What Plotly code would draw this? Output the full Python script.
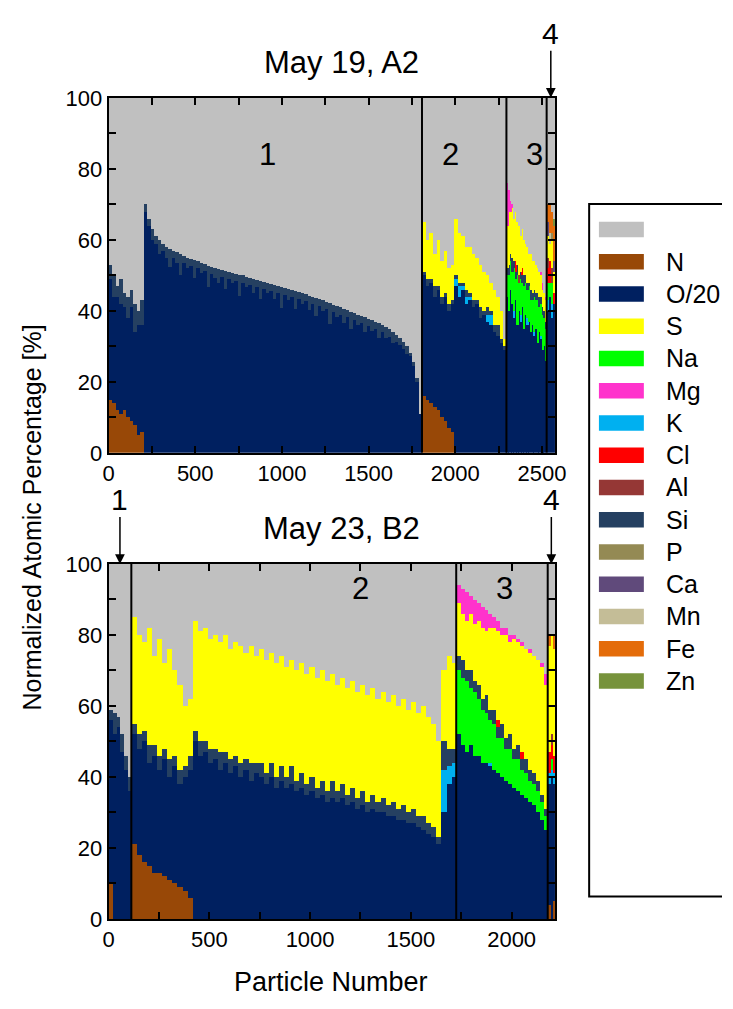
import plotly.graph_objects as go

# ---------------- colours / element order ----------------
COLORS = {
    "rest": "#C0C0C0", "N": "#984807", "O/20": "#002060", "S": "#FFFF00",
    "Na": "#00FF00", "Mg": "#FF33CC", "K": "#00B0F0", "Cl": "#FF0000",
    "Al": "#953735", "Si": "#254061", "P": "#948A54", "Ca": "#604A7B",
    "Mn": "#C4BD97", "Fe": "#E46C0A", "Zn": "#77933C",
}
LEGEND_NAMES = ["rest", "N", "O/20", "S", "Na", "Mg", "K", "Cl", "Al", "Si", "P", "Ca", "Mn", "Fe", "Zn"]
STACK_ORDER = ["N", "O/20", "K", "Na", "Si", "Cl", "Al", "S", "Mg", "P", "Ca", "Mn", "Fe", "Zn"]

# ---------------- May 19, A2 (top) ----------------
TOP_BOUNDS = [0, 1808, 2295, 2527, 2575]
TOP_RANGE = [0, 2575]

TOP_R1_N = [15, 14, 12, 11, 12, 10, 9, 8, 5, 6]
TOP_R1_O = [34, 30, 32, 31, 29, 28, 32, 26, 31, 30, 68,
            64, 60, 59, 56, 57, 55, 52.5, 55, 53.5, 50,
            53.5, 52, 52.7, 49.3, 52, 50.6, 51.2, 46.8, 50.5, 49.2,
            47.9, 49.6, 46.3, 49, 47.8, 48.5, 44.2, 48, 46.7, 47.4,
            45.1, 46.8, 43.5, 46.2, 45, 45.7, 43.4, 45.1, 40.8, 44.5,
            43.2, 43.9, 40.6, 43.3, 42, 42.7, 40.3, 42, 38.7, 41.3,
            40, 40.6, 36.2, 39.8, 38.4, 39, 36.6, 38.2, 34.8, 37.4,
            36, 36.6, 34.2, 35.8, 34.4, 35, 32.5, 34, 32.4, 32.8,
            31, 31.2, 30.3, 29.3, 28, 27.2, 24.5, 20, 11]
TOP_R1_SI = [4, 6, 3, 7, 4, 6, 5, 8, 4, 7, 2,
             2, 3, 2, 4, 2, 3, 5, 2, 3, 6,
             2, 3, 2, 5, 2, 3, 2, 6, 2, 3,
             4, 2, 5, 2, 3, 2, 6, 2, 3, 2,
             4, 2, 5, 2, 3, 2, 4, 2, 6, 2,
             3, 2, 5, 2, 3, 2, 4, 2, 5, 2,
             3, 2, 6, 2, 3, 2, 4, 2, 5, 2,
             3, 2, 4, 2, 3, 2, 4, 2, 3, 2,
             3, 2, 2, 2, 2, 1, 1, 1, 0]

TOP_R2_N = [16, 15, 14, 13, 12, 10, 9, 7, 6]
TOP_R2_O = [34, 32, 34, 31, 34, 32, 35, 33, 36, 47, 44, 46, 42, 43, 41, 42, 38, 39, 37, 36, 34, 33, 31, 29]
TOP_R2_K = [0, 0, 0, 0, 0, 0, 0, 0, 0, 2, 3, 1, 2, 1, 0, 0, 0, 0, 2, 3, 0, 0, 0, 0]
TOP_R2_SI = [1, 2, 1, 3, 1, 2, 1, 2, 1, 1, 1, 1, 2, 1, 2, 1, 3, 1, 2, 1, 2, 3, 1, 1]
TOP_R2_S = [14, 11, 13, 9, 13, 10, 12, 10, 10, 16, 14, 13, 12, 13, 13, 12, 12, 11, 9, 8, 10, 8, 8, 2]

TOP_R3_O = [44, 40, 46, 42, 38, 43, 36, 40, 37, 41, 35, 39, 36, 37, 34, 36, 33, 35, 31, 34, 32, 29, 30, 26]
TOP_R3_NA = [6, 10, 8, 9, 12, 6, 14, 8, 10, 7, 12, 9, 8, 10, 9, 7, 10, 8, 12, 7, 9, 10, 8, 9]
TOP_R3_K = [0, 0, 0, 0, 2, 0, 0, 0, 2, 0, 0, 0, 2, 0, 0, 0, 1, 0, 0, 0, 1, 0, 0, 0]
TOP_R3_CL = [0, 0, 0, 0, 0, 3, 0, 0, 0, 2]
TOP_R3_AL = [0, 0, 0, 0, 0, 0, 0, 2]
TOP_R3_SI = [2, 3, 2, 4, 2, 2, 3, 0, 2, 2, 3, 2, 2, 1, 3, 2, 2, 2, 2, 3, 2, 2, 2, 2]
TOP_R3_S = [12, 15, 12, 14, 12, 14, 12, 14, 10, 11, 10, 9, 10, 8, 10, 9, 8, 8, 7, 7, 6, 5, 5, 6]
TOP_R3_MG = [12, 6, 3, 1, 0, 0, 0, 0, 0, 0, 0, 0, 0, 0, 0, 0, 0, 0, 0, 0, 1, 2, 0, 1]

TOP_R4_O = [40, 44, 38, 42]
TOP_R4_K = [3, 0, 4, 0]
TOP_R4_NA = [5, 4, 6, 0]
TOP_R4_CL = [4, 6, 0, 3]
TOP_R4_S = [6, 5, 8, 6]
TOP_R4_AL = [3, 0, 4, 0]
TOP_R4_FE = [5, 8, 6, 10]
TOP_R4_CA = [4, 0, 0, 3]
TOP_R4_MN = [0, 3, 0, 0]
TOP_R4_P = [0, 0, 2, 0]
TOP_R4_ZN = [0, 0, 0, 2]

# ---------------- May 23, B2 (bottom) ----------------
BOT_BOUNDS = [0, 113, 1725, 2179, 2215]
BOT_RANGE = [0, 2215]

BOT_R1_N = [10, 0, 0, 0, 0, 0]
BOT_R1_O = [46, 52, 54, 47, 42, 36]
BOT_R1_SI = [3, 6, 3, 5, 4, 4]

BOT_R2_N = [21, 18, 16, 15, 13, 13, 12, 11, 10, 9, 8, 6]
BOT_R2_O = [31, 30, 34, 29, 33, 29, 33, 29, 33, 29, 32, 36,
            50, 46, 47, 44, 45, 42, 44, 41, 43, 40, 42, 39, 41, 40, 38, 40, 37, 39,
            37, 38, 36, 37, 35, 36, 34, 35, 33, 34, 33, 34, 32, 33, 31, 32, 30, 31,
            30, 30, 29, 29, 28, 28, 27, 27, 26, 25, 24, 23, 21, 30, 38, 40]
BOT_R2_SI = [3, 4, 3, 5, 3, 4, 3, 5, 3, 4, 3, 4,
             3, 4, 3, 4, 3, 5, 3, 4, 3, 4, 3, 5, 3, 4, 3, 4, 3, 4,
             3, 5, 3, 4, 3, 4, 3, 4, 3, 5, 3, 4, 3, 4, 3, 4, 3, 4,
             3, 4, 3, 4, 3, 4, 3, 4, 3, 4, 3, 3, 2, 8, 5, 4]
BOT_R2_K = [0] * 61 + [12, 5, 4]
BOT_R2_S = [30, 28, 25, 33, 25, 33, 24, 31, 24, 24, 17, 16,
            31, 31, 32, 31, 32, 31, 33, 31, 32, 33, 30, 33, 30, 32, 32, 31, 32, 31,
            31, 30, 31, 31, 31, 31, 31, 31, 31, 30, 30, 30, 30, 30, 30, 30, 30, 30,
            29, 30, 29, 30, 29, 30, 29, 30, 29, 31, 30, 29, 27, 20, 26, 24]

BOT_R3_O = [52, 49, 47, 49, 46, 46, 44, 44, 43, 42, 41, 40, 39, 38, 37, 36, 35, 34, 33, 32, 30, 28, 25]
BOT_R3_NA = [18, 19, 20, 16, 18, 16, 15, 14, 12, 13, 10, 11, 9, 10, 8, 9, 7, 7, 6, 6, 6, 5, 4]
BOT_R3_SI = [4, 5, 3, 5, 3, 4, 3, 5, 3, 4, 3, 4, 3, 4, 3, 4, 3, 4, 3, 3, 3, 2, 2]
BOT_R3_K = [0, 0, 0, 0, 0, 0, 0, 0, 1]
BOT_R3_CL = [0, 0, 0, 0, 0, 0, 0, 0, 0, 0, 2, 0, 0, 0, 0, 0, 2]
BOT_R3_S = [15, 13, 14, 16, 16, 18, 20, 18, 23, 23, 25, 25, 29, 26, 31, 29, 30, 31, 33, 33, 34, 36, 35]
BOT_R3_MG = [5, 7, 8, 5, 7, 5, 6, 6, 4, 3, 3, 2, 2, 2, 1, 1, 1, 0, 1, 0, 0, 1, 3]

BOT_R4_N = [4, 0, 5]
BOT_R4_O = [34, 40, 33]
BOT_R4_K = [3, 2, 3]
BOT_R4_CL = [6, 4, 5]
BOT_R4_NA = [0, 3, 0]
BOT_R4_S = [30, 28, 30]
BOT_R4_AL = [0, 3, 0]
BOT_R4_FE = [3, 0, 4]

# ---------------- labels ----------------
TOP_REGION_LABELS = ["1", "2", "3"]
TOP_REGION_LABEL_X = [915, 1972, 2458]
TOP_REGION_LABEL_Y = 84
BOT_REGION_LABELS = ["2", "3"]
BOT_REGION_LABEL_X = [1251, 1964]
BOT_REGION_LABEL_Y = 93

FONT = "Liberation Sans, Arial, sans-serif"
W, H = 733, 1009


def px(X):
    return X / W


def py(Y):
    return 1 - Y / H


def build(bounds, regions):
    xs, ws = [], []
    comp = {el: [] for el in STACK_ORDER}
    for k, d in enumerate(regions):
        a, b = bounds[k], bounds[k + 1]
        n = max(len(v) for v in d.values())
        w = (b - a) / n
        for i in range(n):
            xs.append(a + (i + 0.5) * w)
            ws.append(w)
        for el in STACK_ORDER:
            vals = list(d.get(el, []))
            comp[el].extend(vals + [0] * (n - len(vals)))
    comp["rest"] = [100 - sum(comp[el][i] for el in STACK_ORDER) for i in range(len(xs))]
    return xs, ws, comp


top_regions = [
    {"N": TOP_R1_N, "O/20": TOP_R1_O, "Si": TOP_R1_SI},
    {"N": TOP_R2_N, "O/20": TOP_R2_O, "K": TOP_R2_K, "Si": TOP_R2_SI, "S": TOP_R2_S},
    {"O/20": TOP_R3_O, "Na": TOP_R3_NA, "K": TOP_R3_K, "Cl": TOP_R3_CL, "Al": TOP_R3_AL,
     "Si": TOP_R3_SI, "S": TOP_R3_S, "Mg": TOP_R3_MG},
    {"O/20": TOP_R4_O, "K": TOP_R4_K, "Na": TOP_R4_NA, "Cl": TOP_R4_CL, "S": TOP_R4_S,
     "Al": TOP_R4_AL, "Fe": TOP_R4_FE, "Ca": TOP_R4_CA, "Mn": TOP_R4_MN, "P": TOP_R4_P, "Zn": TOP_R4_ZN},
]
bot_regions = [
    {"N": BOT_R1_N, "O/20": BOT_R1_O, "Si": BOT_R1_SI},
    {"N": BOT_R2_N, "O/20": BOT_R2_O, "Si": BOT_R2_SI, "K": BOT_R2_K, "S": BOT_R2_S},
    {"O/20": BOT_R3_O, "Na": BOT_R3_NA, "Si": BOT_R3_SI, "K": BOT_R3_K, "Cl": BOT_R3_CL,
     "S": BOT_R3_S, "Mg": BOT_R3_MG},
    {"N": BOT_R4_N, "O/20": BOT_R4_O, "K": BOT_R4_K, "Cl": BOT_R4_CL, "Na": BOT_R4_NA,
     "S": BOT_R4_S, "Al": BOT_R4_AL, "Fe": BOT_R4_FE},
]

fig = go.Figure()
for (bounds, regions, xa, ya) in [(TOP_BOUNDS, top_regions, "x", "y"),
                                  (BOT_BOUNDS, bot_regions, "x2", "y2")]:
    xs, ws, comp = build(bounds, regions)
    for el in STACK_ORDER + ["rest"]:
        fig.add_trace(go.Bar(x=xs, y=comp[el], width=ws, name=el,
                             marker=dict(color=COLORS[el], line=dict(width=0)),
                             xaxis=xa, yaxis=ya, showlegend=False, hoverinfo="skip"))

# ---------------- axes ----------------
XDOM = [px(105), px(562)]
TOP_YDOM = [py(452), py(88)]
BOT_YDOM = [py(930), py(566)]

TICKFONT = dict(family=FONT, size=22, color="black")
axis_common = dict(showgrid=False, zeroline=False, showline=True, linecolor="black", linewidth=2,
                   mirror="allticks", ticks="inside", ticklen=7, tickwidth=1.5, tickcolor="black",
                   tickfont=TICKFONT)
minor_x = dict(dtick=250, ticks="inside", ticklen=7, tickwidth=1.5, tickcolor="black")
minor_y = dict(dtick=10, ticks="inside", ticklen=7, tickwidth=1.5, tickcolor="black")

fig.update_layout(
    xaxis=dict(domain=XDOM, anchor="y", range=TOP_RANGE, dtick=500, tick0=0, minor=minor_x, **axis_common),
    yaxis=dict(domain=TOP_YDOM, anchor="x", range=[0, 100], dtick=20, minor=minor_y, **axis_common),
    xaxis2=dict(domain=XDOM, anchor="y2", range=BOT_RANGE, dtick=500, tick0=0, minor=minor_x, **axis_common),
    yaxis2=dict(domain=BOT_YDOM, anchor="x2", range=[0, 100], dtick=20, minor=minor_y, **axis_common),
    barmode="stack", bargap=0, bargroupgap=0,
    width=W, height=H, autosize=False,
    margin=dict(l=0, r=0, t=0, b=0),
    paper_bgcolor="white", plot_bgcolor="white",
    font=dict(family=FONT, color="black"),
)

shapes = []
annotations = []
for bounds, xr, yr in [(TOP_BOUNDS, "x", "y"), (BOT_BOUNDS, "x2", "y2")]:
    for b in bounds[1:-1]:
        shapes.append(dict(type="line", xref=xr, yref=yr, x0=b, x1=b, y0=0, y1=100,
                           line=dict(color="black", width=2)))

for t, x in zip(TOP_REGION_LABELS, TOP_REGION_LABEL_X):
    annotations.append(dict(text=t, x=x, y=TOP_REGION_LABEL_Y, xref="x", yref="y", showarrow=False,
                            xanchor="center", yanchor="middle",
                            font=dict(family=FONT, size=31, color="black")))
for t, x in zip(BOT_REGION_LABELS, BOT_REGION_LABEL_X):
    annotations.append(dict(text=t, x=x, y=BOT_REGION_LABEL_Y, xref="x2", yref="y2", showarrow=False,
                            xanchor="center", yanchor="middle",
                            font=dict(family=FONT, size=31, color="black")))

arrow_specs = [("4", (TOP_BOUNDS[3] + TOP_BOUNDS[4]) / 2, "x", "y"),
               ("1", (BOT_BOUNDS[0] + BOT_BOUNDS[1]) / 2, "x2", "y2"),
               ("4", (BOT_BOUNDS[3] + BOT_BOUNDS[4]) / 2, "x2", "y2")]
for t, x, xr, yr in arrow_specs:
    annotations.append(dict(text=t, x=x, y=100, xref=xr, yref=yr, showarrow=True,
                            ax=0, ay=-47, arrowhead=2, arrowsize=1.3, arrowwidth=1.5,
                            arrowcolor="black", standoff=0, yanchor="bottom", borderpad=0,
                            font=dict(family=FONT, size=30, color="black")))


def paper_text(text, X, Y, size, angle=0):
    annotations.append(dict(text=text, x=px(X), y=py(Y), xref="paper", yref="paper",
                            xanchor="center", yanchor="middle", showarrow=False, textangle=angle,
                            font=dict(family=FONT, size=size, color="black")))


paper_text("May 19, A2", 343, 52, 31)
paper_text("May 23, B2", 343, 530, 31)
paper_text("Normalized Atomic Percentage [%]", 27, 518, 25, angle=-90)
paper_text("Particle Number", 333, 995, 27)

# custom legend (box runs off the right edge of the picture)
lx0, ly0, ly1 = px(597), py(197), py(907)
shapes.append(dict(type="path", xref="paper", yref="paper",
                   path=f"M 1.0,{ly0} L {lx0},{ly0} L {lx0},{ly1} L 1.0,{ly1}",
                   line=dict(color="black", width=2)))
for i, el in enumerate(LEGEND_NAMES):
    cy = 223 + 33.07 * i
    shapes.append(dict(type="rect", xref="paper", yref="paper", x0=px(607), x1=px(653),
                       y0=py(cy + 8), y1=py(cy - 8), line=dict(width=0),
                       fillcolor=COLORS[el]))
    if el != "rest":
        annotations.append(dict(text=el, x=px(674), y=py(cy), xref="paper", yref="paper",
                                xanchor="left", yanchor="middle", showarrow=False,
                                font=dict(family=FONT, size=25, color="black")))

fig.update_layout(shapes=shapes, annotations=annotations)
fig.write_html("out.html")
